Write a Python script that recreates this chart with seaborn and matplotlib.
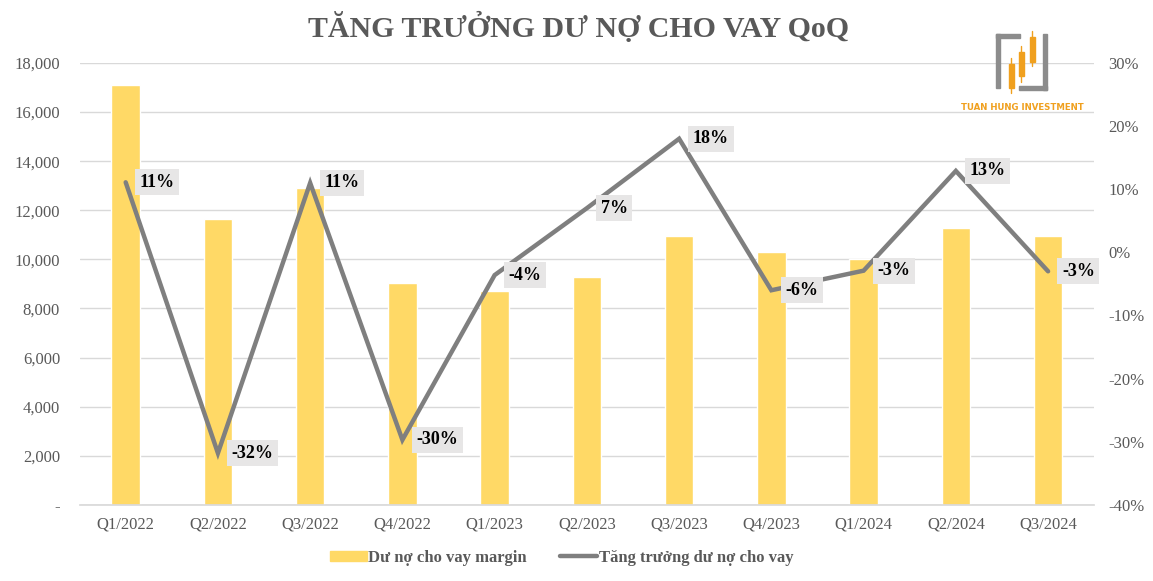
import numpy as np
import pandas as pd
import matplotlib
matplotlib.use("Agg")
import matplotlib.pyplot as plt
import matplotlib.patches as mpatches
import matplotlib.lines as mlines
import seaborn as sns

quarters = ["Q1/2022", "Q2/2022", "Q3/2022", "Q4/2022", "Q1/2023", "Q2/2023",
            "Q3/2023", "Q4/2023", "Q1/2024", "Q2/2024", "Q3/2024"]
margin_debt = [17100, 11650, 12900, 9040, 8710, 9280, 10950, 10300, 10000, 11280, 10950]
growth_pct = [11.1, -31.8, 11.0, -29.7, -3.6, 7.0, 18.0, -6.0, -2.9, 12.9, -3.0]
growth_labels = ["11%", "-32%", "11%", "-30%", "-4%", "7%", "18%", "-6%", "-3%", "13%", "-3%"]
left_ticks = [0, 2000, 4000, 6000, 8000, 10000, 12000, 14000, 16000, 18000]
left_ticklabels = ["-", "2,000", "4,000", "6,000", "8,000", "10,000", "12,000", "14,000", "16,000", "18,000"]
right_ticks = [-40, -30, -20, -10, 0, 10, 20, 30]
right_ticklabels = ["-40%", "-30%", "-20%", "-10%", "0%", "10%", "20%", "30%"]
title = "TĂNG TRƯỞNG DƯ NỢ CHO VAY QoQ"
bar_name = "Dư nợ cho vay margin"
line_name = "Tăng trưởng dư nợ cho vay"

sns.set_theme(style="white")
plt.rcParams["font.family"] = ["Liberation Serif", "DejaVu Serif"]

BAR_C = "#FFD966"
LINE_C = "#7F7F7F"
TXT_C = "#595959"
GRID_C = "#D9D9D9"

df = pd.DataFrame({"quarter": quarters, "debt": margin_debt,
                   "pos": np.arange(len(quarters)), "growth": growth_pct})

fig = plt.figure(figsize=(11.53, 5.81), dpi=100)
ax = fig.add_axes([0.069, 0.131, 0.880, 0.7606])

sns.barplot(data=df, x="quarter", y="debt", color=BAR_C, saturation=1,
            width=0.31, ax=ax, zorder=2)
ax.set_ylim(0, 18000)
ax.set_xlim(-0.5, len(quarters) - 0.5)
ax.set_yticks(left_ticks)
ax.set_yticklabels(left_ticklabels)
ax.yaxis.grid(True, color=GRID_C, lw=1)
ax.set_axisbelow(True)
ax.set_xlabel("")
ax.set_ylabel("")
for s in ["top", "right", "left"]:
    ax.spines[s].set_visible(False)
ax.spines["bottom"].set_color(GRID_C)
ax.tick_params(axis="both", length=0, labelsize=12, labelcolor=TXT_C)
ax.tick_params(axis="x", pad=8)
ax.tick_params(axis="y", pad=14)

ax2 = ax.twinx()
sns.lineplot(data=df, x="pos", y="growth", color=LINE_C, lw=3.2, ax=ax2,
             zorder=3, solid_joinstyle="miter")
ax2.set_ylim(-40, 30)
ax2.set_xlim(-0.5, len(quarters) - 0.5)
ax2.set_yticks(right_ticks)
ax2.set_yticklabels(right_ticklabels)
ax2.set_xlabel("")
ax2.set_ylabel("")
for s in ["top", "right", "left", "bottom"]:
    ax2.spines[s].set_visible(False)
ax2.tick_params(axis="y", length=0, labelsize=12, labelcolor=TXT_C, pad=10)

for xi, yi, lab in zip(df["pos"], growth_pct, growth_labels):
    ax2.annotate(lab, (xi, yi), xytext=(10, 0), textcoords="offset points",
                 ha="left", va="center", fontsize=13, fontweight="bold", color="black",
                 bbox=dict(boxstyle="square,pad=0.25", fc="#E7E6E6", ec="none"), zorder=5)

fig.text(0.502, 0.952, title, ha="center", va="center", fontsize=21.5,
         fontweight="bold", color=TXT_C)

# legend
handles = [mpatches.Patch(color=BAR_C, label=bar_name),
           mlines.Line2D([], [], color=LINE_C, lw=3.2, label=line_name)]
leg = fig.legend(handles=handles, loc="center", bbox_to_anchor=(0.487, 0.04), ncol=2,
                 frameon=False, handlelength=2.2, handleheight=0.5, columnspacing=2.0,
                 handletextpad=0.1, prop={"weight": "bold", "size": 12})
for t in leg.get_texts():
    t.set_color(TXT_C)

# logo
W, H = 1153, 581
def fx(px): return px / W
def fy(py): return 1 - py / H
gray = "#8C8C8C"
orange = "#F0A01E"
fig.add_artist(mpatches.Rectangle((fx(996), fy(88)), fx(4), 54 / H, color=gray, transform=fig.transFigure))
fig.add_artist(mpatches.Rectangle((fx(996), fy(38)), fx(24), 4 / H, color=gray, transform=fig.transFigure))
fig.add_artist(mpatches.Rectangle((fx(1043), fy(90)), fx(4), 56 / H, color=gray, transform=fig.transFigure))
fig.add_artist(mpatches.Rectangle((fx(1019), fy(90)), fx(28), 4 / H, color=gray, transform=fig.transFigure))
for cx, top, bot, wt, wb in [(1011, 64, 88, 58, 93), (1021, 52, 76, 46, 82), (1032, 37, 62, 31, 66)]:
    fig.add_artist(mlines.Line2D([fx(cx), fx(cx)], [fy(wb), fy(wt)], color=orange, lw=1, transform=fig.transFigure))
    fig.add_artist(mpatches.Rectangle((fx(cx - 2.5), fy(bot)), fx(5), (bot - top) / H, color=orange, transform=fig.transFigure))
fig.text(fx(1022), fy(107), "TUAN HUNG INVESTMENT", ha="center", va="center",
         fontsize=6.2, fontweight="bold", color=orange, family=["DejaVu Sans"])

fig.savefig("out.png", dpi=100)
